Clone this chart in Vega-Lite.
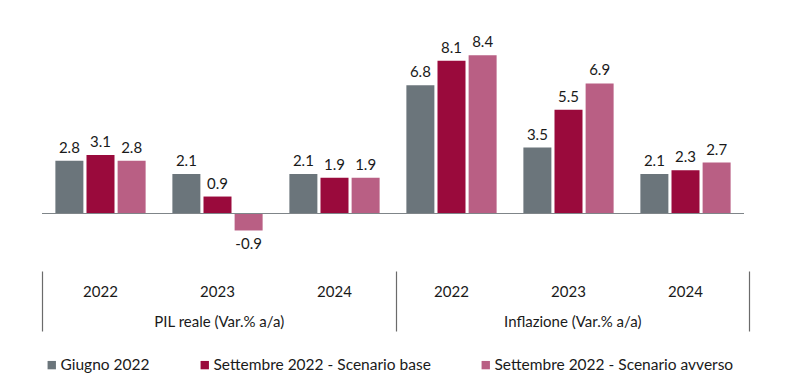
{
  "$schema": "https://vega.github.io/schema/vega-lite/v6.json",
  "width": 702,
  "height": 246,
  "padding": {"left": 42, "top": 25, "right": 56, "bottom": 114},
  "autosize": {"type": "none"},
  "background": "white",
  "config": {
    "font": "Lato",
    "view": {"stroke": null},
    "text": {"font": "Lato"},
    "locale": {"number": {"decimal": ".", "thousands": ",", "grouping": [3], "currency": ["", ""], "minus": "-"}}
  },
  "datasets": {
    "bars": [
      {"cat": "PIL 2022", "series": "Giugno 2022", "value": 2.8},
      {"cat": "PIL 2022", "series": "Settembre 2022 - Scenario base", "value": 3.1},
      {"cat": "PIL 2022", "series": "Settembre 2022 - Scenario avverso", "value": 2.8},
      {"cat": "PIL 2023", "series": "Giugno 2022", "value": 2.1},
      {"cat": "PIL 2023", "series": "Settembre 2022 - Scenario base", "value": 0.9},
      {"cat": "PIL 2023", "series": "Settembre 2022 - Scenario avverso", "value": -0.9},
      {"cat": "PIL 2024", "series": "Giugno 2022", "value": 2.1},
      {"cat": "PIL 2024", "series": "Settembre 2022 - Scenario base", "value": 1.9},
      {"cat": "PIL 2024", "series": "Settembre 2022 - Scenario avverso", "value": 1.9},
      {"cat": "INF 2022", "series": "Giugno 2022", "value": 6.8},
      {"cat": "INF 2022", "series": "Settembre 2022 - Scenario base", "value": 8.1},
      {"cat": "INF 2022", "series": "Settembre 2022 - Scenario avverso", "value": 8.4},
      {"cat": "INF 2023", "series": "Giugno 2022", "value": 3.5},
      {"cat": "INF 2023", "series": "Settembre 2022 - Scenario base", "value": 5.5},
      {"cat": "INF 2023", "series": "Settembre 2022 - Scenario avverso", "value": 6.9},
      {"cat": "INF 2024", "series": "Giugno 2022", "value": 2.1},
      {"cat": "INF 2024", "series": "Settembre 2022 - Scenario base", "value": 2.3},
      {"cat": "INF 2024", "series": "Settembre 2022 - Scenario avverso", "value": 2.7}
    ],
    "groups": [
      {"group": "PIL reale (Var.% a/a)"},
      {"group": "Inflazione (Var.% a/a)"}
    ]
  },
  "resolve": {"scale": {"x": "independent"}, "axis": {"x": "independent"}},
  "layer": [
    {
      "data": {"name": "groups"},
      "mark": {"type": "bar", "opacity": 0},
      "encoding": {
        "x": {
          "field": "group", "type": "nominal", "sort": null,
          "scale": {"paddingInner": 0, "paddingOuter": 0, "range": [0, 707]},
          "axis": {
            "orient": "bottom", "title": null, "domain": false,
            "tickBand": "extent", "tickSize": 60, "tickColor": "#6b6b6b", "tickWidth": 1.2,
            "labelPadding": -17, "labelFontSize": 15, "labelColor": "#1a1a1a",
            "labelFont": "Lato", "labelBaseline": "top", "labelAngle": 0, "labelLimit": 400
          }
        },
        "y": {"datum": 0, "type": "quantitative", "scale": {"domain": [-3.05, 10], "nice": false}, "axis": null},
        "y2": {"datum": 0}
      }
    },
    {
      "data": {"name": "bars"},
      "layer": [
        {
          "mark": {"type": "bar"},
          "encoding": {
            "color": {
              "field": "series", "type": "nominal", "sort": null,
              "scale": {
                "domain": ["Giugno 2022", "Settembre 2022 - Scenario base", "Settembre 2022 - Scenario avverso"],
                "range": ["#6b757b", "#9a0a3c", "#b95f84"]
              },
              "legend": {
                "title": null, "orient": "none", "direction": "horizontal",
                "legendX": 2, "legendY": 332,
                "symbolType": "square", "symbolSize": 70, "symbolStrokeWidth": 0,
                "labelFontSize": 15.5, "labelFont": "Lato", "labelColor": "#1a1a1a",
                "labelOffset": 1, "columnPadding": 47, "labelLimit": 400
              }
            }
          }
        },
        {
          "mark": {"type": "rule", "color": "#7f8589", "strokeWidth": 1.2},
          "encoding": {"y": {"datum": 0}, "x": {"value": 0}, "x2": {"value": 702}, "xOffset": null}
        },
        {
          "transform": [{"filter": "datum.value >= 0"}],
          "mark": {"type": "text", "baseline": "bottom", "dy": -5, "fontSize": 15, "color": "#1a1a1a"},
          "encoding": {"text": {"field": "value", "type": "quantitative", "format": ".1f"}}
        },
        {
          "transform": [{"filter": "datum.value < 0"}],
          "mark": {"type": "text", "baseline": "top", "dy": 7, "fontSize": 15, "color": "#1a1a1a"},
          "encoding": {"text": {"field": "value", "type": "quantitative", "format": ".1f"}}
        }
      ],
      "encoding": {
        "x": {
          "field": "cat", "type": "nominal", "sort": null,
          "scale": {"paddingInner": 0, "paddingOuter": 0},
          "axis": {
            "orient": "bottom", "title": null, "domain": false, "ticks": false,
            "labelPadding": 13, "labelFontSize": 15, "labelColor": "#1a1a1a", "labelFont": "Lato",
            "labelAngle": 0, "labelExpr": "slice(datum.label, -4)"
          }
        },
        "xOffset": {
          "field": "series", "type": "nominal", "sort": null,
          "scale": {"paddingInner": 0.1, "paddingOuter": 0.43}
        },
        "y": {"field": "value", "type": "quantitative", "scale": {"domain": [-3.05, 10], "nice": false}, "axis": null}
      }
    }
  ]
}
